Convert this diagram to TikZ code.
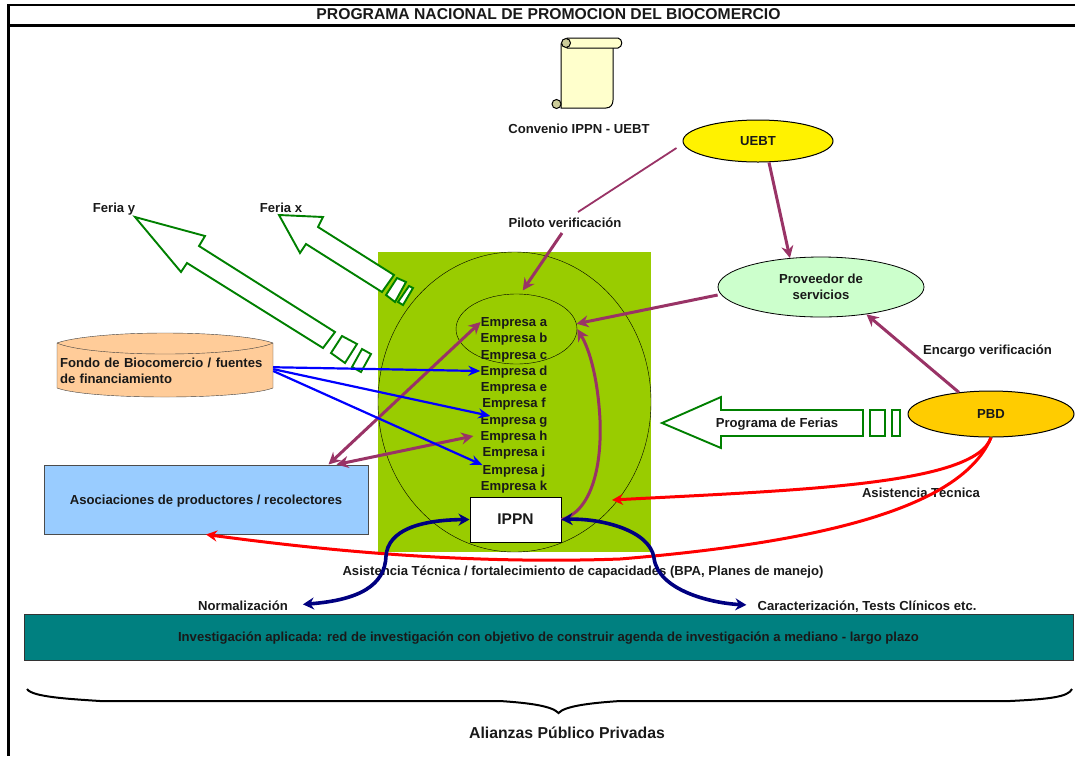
\documentclass[tikz,border=0pt]{standalone}
\usepackage{fontspec}
\setmainfont{Liberation Sans}
\usetikzlibrary{arrows.meta,shapes.geometric}
\definecolor{plantgreen}{HTML}{99CC00}
\definecolor{feriagreen}{HTML}{008000}
\definecolor{plum}{HTML}{993366}
\definecolor{navyblue}{HTML}{000080}
\definecolor{tealbar}{HTML}{008080}
\definecolor{skyfill}{HTML}{99CCFF}
\definecolor{peachfill}{HTML}{FFCC99}
\definecolor{scrollfill}{HTML}{FFFFCC}
\definecolor{curlfill}{HTML}{CCCC99}
\definecolor{mintfill}{HTML}{CCFFCC}
\definecolor{goldfill}{HTML}{FFCC00}
\tikzset{
    lbl/.style={font=\fontsize{13.1}{16}\selectfont\bfseries, inner sep=0pt, align=center, text=black!90, text depth=0pt},
    org/.style={lbl, draw=black, ellipse, line width=1pt, inner sep=0pt},
    feria/.style={draw=feriagreen, fill=white, line width=1.9pt, line join=miter},
    plumthick/.style={draw=plum, line width=3pt, -{Stealth[length=12pt,width=12pt]}},
    plumboth/.style={draw=plum, line width=3pt, {Stealth[length=12pt,width=12pt]}-{Stealth[length=12pt,width=12pt]}},
    bluearrow/.style={draw=blue, line width=2.2pt, -{Stealth[length=12pt,width=10pt]}},
    redarrow/.style={draw=red, line width=3pt, -{Stealth[length=11pt,width=11pt]}},
    navyarrow/.style={draw=navyblue, line width=3.6pt, {Stealth[length=11pt,width=12pt]}-{Stealth[length=11pt,width=12pt]}},
}
\begin{document}
\begin{tikzpicture}[x=1pt,y=-1pt]
    \useasboundingbox (0,0) rectangle (1075,756);

    \draw[line width=2.5pt] (1075,5) -- (8.5,5) -- (8.5,756);
    \draw[line width=3pt] (8.5,25.5) -- (1075,25.5);
    \draw (548.5,14.5) node[lbl,font=\fontsize{15.7}{18}\selectfont\bfseries] (titulo) {PROGRAMA NACIONAL DE PROMOCION DEL BIOCOMERCIO};

    \fill[plantgreen] (378,252) rectangle (651,552);
    \draw (514.5,402) node[draw,ellipse,inner sep=0pt,minimum width=273pt,minimum height=300pt] (grande) {};
    \draw (516.5,329) node[draw,ellipse,inner sep=0pt,minimum width=121pt,minimum height=70pt] (pilotos) {};

    \draw (514,322) node[lbl] (empa) {Empresa a};
    \draw (514,338) node[lbl] (empb) {Empresa b};
    \draw (514,355) node[lbl] (empc) {Empresa c};
    \draw (514,371) node[lbl] (empd) {Empresa d};
    \draw (514,387) node[lbl] (empe) {Empresa e};
    \draw (514,403) node[lbl] (empf) {Empresa f};
    \draw (514,420) node[lbl] (empg) {Empresa g};
    \draw (514,436) node[lbl] (emph) {Empresa h};
    \draw (514,452) node[lbl] (empi) {Empresa i};
    \draw (514,470) node[lbl] (empj) {Empresa j};
    \draw (514,486) node[lbl] (empk) {Empresa k};

    \draw (515.5,519.5) node[lbl,draw=black,fill=white,line width=1pt,minimum width=91pt,minimum height=45pt,font=\fontsize{15.5}{17}\selectfont\bfseries] (ippn) {IPPN};

    \draw[fill=scrollfill,line width=1pt] (561,44) -- (561,108) -- (606,108) .. controls (611,108) and (613,104) .. (613,100) -- (613,46) -- cycle;
    \draw[fill=scrollfill,line width=1pt] (567,38) -- (618,38) .. controls (623,39) and (623,47) .. (618,48) -- (567,48) -- cycle;
    \draw[fill=curlfill,line width=1pt] (566,43) circle (4.5);
    \draw[fill=curlfill,line width=1pt] (556.5,104) circle (4.5);
    \draw (579,129) node[lbl] (convenio) {Convenio IPPN - UEBT};

    \draw (758,141) node[org,fill=yellow,minimum width=150pt,minimum height=42pt] (uebt) {UEBT};
    \draw (821,287) node[org,fill=mintfill,minimum width=206pt,minimum height=60pt,line width=.8pt] (prov) {Proveedor de\\servicios};
    \draw (991,414) node[org,fill=goldfill,minimum width=166pt,minimum height=46pt] (pbd) {PBD};
    \draw (565,223) node[lbl] (piloto) {Piloto verificación};
    \coordinate (pilotop) at (578,212);
    \draw (987.5,350) node[lbl] (encargo) {Encargo verificación};
    \draw (921,493) node[lbl] (asist) {Asistencia Técnica};
    \draw (114,208) node[lbl] (feriay) {Feria y};
    \draw (281,208) node[lbl] (feriax) {Feria x};

    \draw[feria] (135,217) -- (205,236) -- (199,246) -- (335,332) -- (323,348) -- (187,263) -- (181,272) -- cycle;
    \draw[feria] (342,336) -- (357,344) -- (345,363) -- (331,353) -- cycle;
    \draw[feria] (362,349) -- (371,354) -- (361,372) -- (352,367) -- cycle;
    \draw[feria] (279,215) -- (323,217) -- (318,227) -- (394,275) -- (382,292) -- (306,244) -- (300,253) -- cycle;
    \draw[feria] (397,278) -- (406,282) -- (395,302) -- (386,295) -- cycle;
    \draw[feria] (409,286) -- (413,288) -- (403,305) -- (398,302) -- cycle;
    \draw[feria] (662,423) -- (721,397) -- (721,410) -- (863,410) -- (863,436) -- (721,436) -- (721,448) -- cycle;
    \draw[feria] (870,410) rectangle (885,436);
    \draw[feria] (892,410) rectangle (900,436);
    \draw (777,423) node[lbl] (programa) {Programa de Ferias};

    \draw[fill=peachfill,draw=black!75] (57,343) -- (57,388) .. controls (70,393) and (110,397) .. (165,397) .. controls (220,397) and (260,393) .. (273,388) -- (273,343) .. controls (260,338) and (220,333) .. (165,333) .. controls (110,333) and (70,338) .. (57,343) -- cycle;
    \draw[draw=black!75] (57,343) .. controls (70,349) and (110,354) .. (165,354) .. controls (220,354) and (260,349) .. (273,343);
    \draw (165,371) node[lbl,text depth=,align=left,text width=210pt,minimum width=216pt] (fondo) {Fondo de Biocomercio / fuentes\\de financiamiento};

    \draw (206,499.5) node[lbl,draw=black!70,fill=skyfill,line width=1pt,minimum width=324pt,minimum height=69pt] (asoc) {Asociaciones de productores / recolectores};

    \draw (548.5,637) node[lbl,draw=black!80,fill=tealbar,line width=1pt,minimum width=1049pt,minimum height=46pt] (invest) {Investigación aplicada: red de investigación con objetivo de construir agenda de investigación a mediano - largo plazo};
    \draw (583,571) node[lbl] (fortal) {Asistencia Técnica / fortalecimiento de capacidades (BPA, Planes de manejo)};
    \draw (243,605.5) node[lbl] (normal) {Normalización};
    \draw (867,605.5) node[lbl] (carac) {Caracterización, Tests Clínicos etc.};

    \draw[draw=plum,line width=1.8pt] ([shift={(-6,7)}]uebt.west) -- (pilotop);
    \draw[plumthick,shorten >=4pt] ([shift={(-3,10)}]piloto.center) -- ([xshift=4pt]pilotos.north);
    \draw[plumthick] ([xshift=11pt]uebt.south) -- (prov.137);
    \draw[plumthick] ([yshift=-8pt]prov.west) -- (pilotos.5);
    \draw[plumthick] (pbd.146) -- (prov.-31);
    \draw[plumthick] (ippn.east) .. controls (590,512) and (602,470) .. (600,420) .. controls (598,380) and (590,350) .. (pilotos.east);
    \draw[plumboth] ([xshift=-40pt]asoc.north east) -- (empa.west);
    \draw[plumboth] ([xshift=-32pt]asoc.north east) -- ([xshift=-7pt]emph.west);

    \draw[bluearrow] (fondo.2) -- (empd.west);
    \draw[bluearrow,shorten >=-3pt] (fondo.1) -- (empg.170);
    \draw[bluearrow] (fondo.0) -- (empj.north west);

    \draw[redarrow] (pbd.south) .. controls (975,485) and (800,490) .. (612,500);
    \draw[redarrow] (pbd.south) .. controls (965,500) and (850,540) .. (620,559) .. controls (450,565) and (300,547) .. (asoc.south);

    \draw[navyarrow,shorten <=15pt] (normal.east) .. controls (360,600) and (385,585) .. (386,556) .. controls (388,530) and (420,520) .. (ippn.west);
    \draw[navyarrow,shorten >=11pt] (ippn.east) .. controls (600,518) and (650,530) .. (654,558) .. controls (658,590) and (710,603) .. (carac.west);

    \draw[line width=2pt] (27,689) .. controls (32,697) and (70,699) .. (100,701) -- (500,701) .. controls (530,703) and (552,706) .. (558.5,713) .. controls (565,706) and (590,703) .. (620,701) -- (1010,701) .. controls (1050,699) and (1068,697) .. (1072,689);
    \draw (567,733) node[lbl,font=\fontsize{15.8}{18}\selectfont\bfseries] (alianzas) {Alianzas Público Privadas};
\end{tikzpicture}
\end{document}
